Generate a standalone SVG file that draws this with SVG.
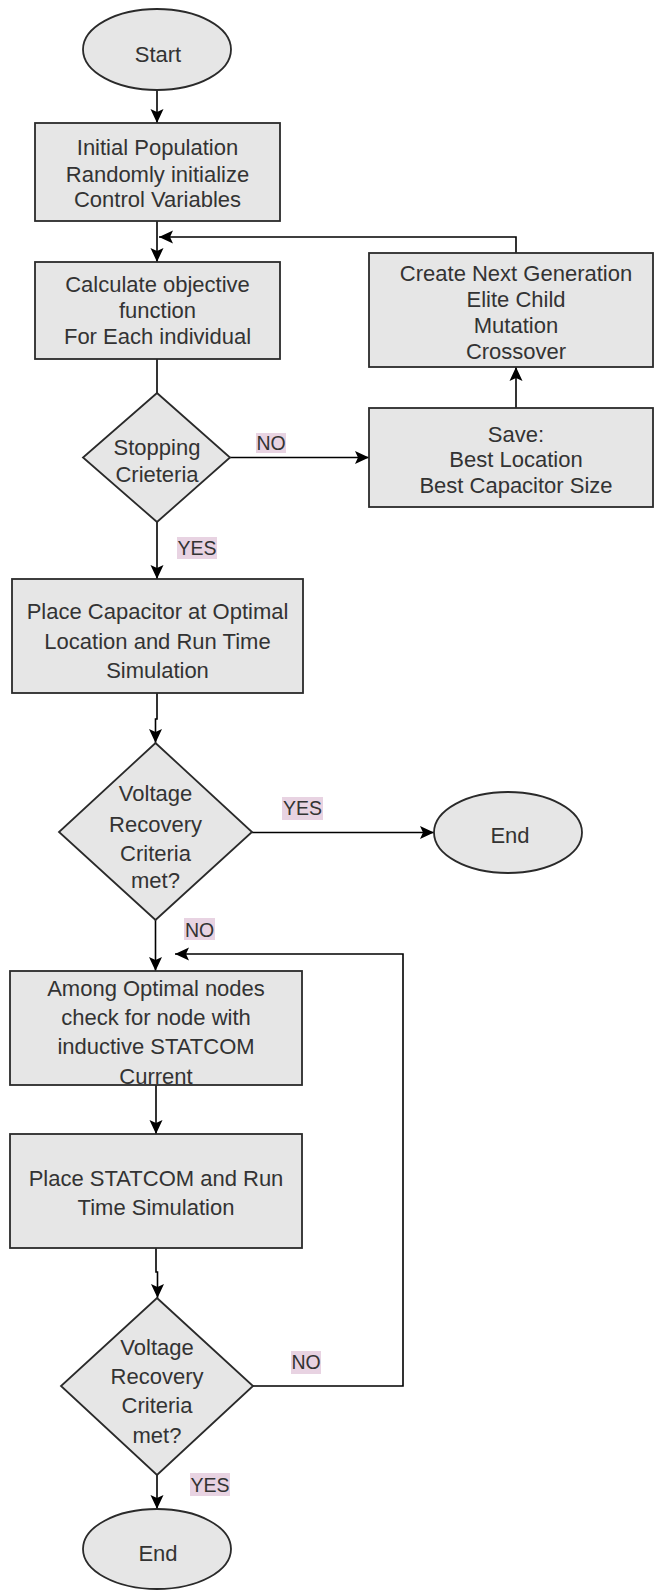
<svg xmlns="http://www.w3.org/2000/svg" width="654" height="1590" viewBox="0 0 654 1590">
<style>
.shape{fill:#e6e6e6;stroke:#2a2a2a;stroke-width:1.8}
.t{font-family:"Liberation Sans",Arial,sans-serif;font-size:22px;fill:#333;text-anchor:middle}
.lbl{font-family:"Liberation Sans",Arial,sans-serif;font-size:19.5px;fill:#333;text-anchor:middle}
.lblbg{fill:#e8d3e2}
.edge{fill:none;stroke:#000;stroke-width:1.6}
</style>
<defs>
<marker id="arr" markerUnits="userSpaceOnUse" markerWidth="15" markerHeight="15" viewBox="0 0 15 15" refX="14" refY="7.5" orient="auto">
<path d="M0,1 L14,7.5 L0,14 L3,7.5 Z" fill="#000"/>
</marker>
</defs>
<rect width="654" height="1590" fill="#fff"/>

<g id="connectors">
<path class="edge" d="M157,90 V123" marker-end="url(#arr)"/>
<path class="edge" d="M157,221 V262" marker-end="url(#arr)"/>
<path class="edge" d="M516,253 V237 H159" marker-end="url(#arr)"/>
<path class="edge" d="M157,359 V393"/>
<path class="edge" d="M230,457.5 H369" marker-end="url(#arr)"/>
<path class="edge" d="M516,408 V367" marker-end="url(#arr)"/>
<path class="edge" d="M157,522 V579" marker-end="url(#arr)"/>
<path class="edge" d="M157,693 V719 H155.5 V743" marker-end="url(#arr)"/>
<path class="edge" d="M252,832.5 H434" marker-end="url(#arr)"/>
<path class="edge" d="M155.5,920 V971" marker-end="url(#arr)"/>
<path class="edge" d="M253,1386 H403 V954 H175" marker-end="url(#arr)"/>
<path class="edge" d="M156,1085 V1134" marker-end="url(#arr)"/>
<path class="edge" d="M156,1248 V1272 H157.5 V1298" marker-end="url(#arr)"/>
<path class="edge" d="M157,1475 V1509" marker-end="url(#arr)"/>
</g>

<g id="labels">
<rect class="lblbg" x="256" y="433" width="30" height="20"/>
<text class="lbl" x="271" y="449.5">NO</text>
<rect class="lblbg" x="177" y="537" width="40" height="22"/>
<text class="lbl" x="197" y="554.5">YES</text>
<rect class="lblbg" x="282" y="797" width="41" height="23"/>
<text class="lbl" x="302.5" y="815">YES</text>
<rect class="lblbg" x="184" y="918" width="31" height="22"/>
<text class="lbl" x="199.5" y="937">NO</text>
<rect class="lblbg" x="291" y="1351" width="30" height="23"/>
<text class="lbl" x="306" y="1369">NO</text>
<rect class="lblbg" x="190" y="1473" width="40" height="23"/>
<text class="lbl" x="210" y="1491.5">YES</text>
</g>

<g id="start">
<ellipse class="shape" cx="157" cy="49.5" rx="74" ry="40.5"/>
<text class="t" x="158" y="61.5">Start</text>
</g>

<g id="init">
<rect class="shape" x="35" y="123" width="245" height="98"/>
<text class="t" x="157.5" y="155">Initial Population</text>
<text class="t" x="157.5" y="182">Randomly initialize</text>
<text class="t" x="157.5" y="207">Control Variables</text>
</g>

<g id="calc">
<rect class="shape" x="35" y="262" width="245" height="97"/>
<text class="t" x="157.5" y="292">Calculate objective</text>
<text class="t" x="157.5" y="318">function</text>
<text class="t" x="157.5" y="344">For Each individual</text>
</g>

<g id="nextgen">
<rect class="shape" x="369" y="253" width="284" height="114"/>
<text class="t" x="516" y="281">Create Next Generation</text>
<text class="t" x="516" y="306.5">Elite Child</text>
<text class="t" x="516" y="333">Mutation</text>
<text class="t" x="516" y="359">Crossover</text>
</g>

<g id="save">
<rect class="shape" x="369" y="408" width="284" height="99"/>
<text class="t" x="516" y="441.5">Save:</text>
<text class="t" x="516" y="467">Best Location</text>
<text class="t" x="516" y="492.5">Best Capacitor Size</text>
</g>

<g id="stop">
<polygon class="shape" points="157,393 230,457.5 157,522 83,457.5"/>
<text class="t" x="157" y="455">Stopping</text>
<text class="t" x="157" y="481.5">Crieteria</text>
</g>

<g id="placecap">
<rect class="shape" x="12" y="579" width="291" height="114"/>
<text class="t" x="157.5" y="619">Place Capacitor at Optimal</text>
<text class="t" x="157.5" y="649">Location and Run Time</text>
<text class="t" x="157.5" y="678">Simulation</text>
</g>

<g id="vrc1">
<polygon class="shape" points="155.5,743 252,832 155.5,920 59,832"/>
<text class="t" x="155.5" y="800.5">Voltage</text>
<text class="t" x="155.5" y="831.5">Recovery</text>
<text class="t" x="155.5" y="860.5">Criteria</text>
<text class="t" x="155.5" y="888">met?</text>
</g>

<g id="end1">
<ellipse class="shape" cx="508" cy="832.5" rx="74" ry="40.5"/>
<text class="t" x="510" y="843">End</text>
</g>

<g id="among">
<rect class="shape" x="10" y="971" width="292" height="114"/>
<text class="t" x="156" y="995.5">Among Optimal nodes</text>
<text class="t" x="156" y="1025">check for node with</text>
<text class="t" x="156" y="1054">inductive STATCOM</text>
<text class="t" x="156" y="1084">Current</text>
</g>

<g id="placestat">
<rect class="shape" x="10" y="1134" width="292" height="114"/>
<text class="t" x="156" y="1186">Place STATCOM and Run</text>
<text class="t" x="156" y="1215">Time Simulation</text>
</g>

<g id="vrc2">
<polygon class="shape" points="157,1298 253,1386 157,1475 61,1386"/>
<text class="t" x="157" y="1355">Voltage</text>
<text class="t" x="157" y="1384">Recovery</text>
<text class="t" x="157" y="1413">Criteria</text>
<text class="t" x="157" y="1442.5">met?</text>
</g>

<g id="end2">
<ellipse class="shape" cx="157" cy="1549" rx="74" ry="40"/>
<text class="t" x="158" y="1560.5">End</text>
</g>
</svg>
